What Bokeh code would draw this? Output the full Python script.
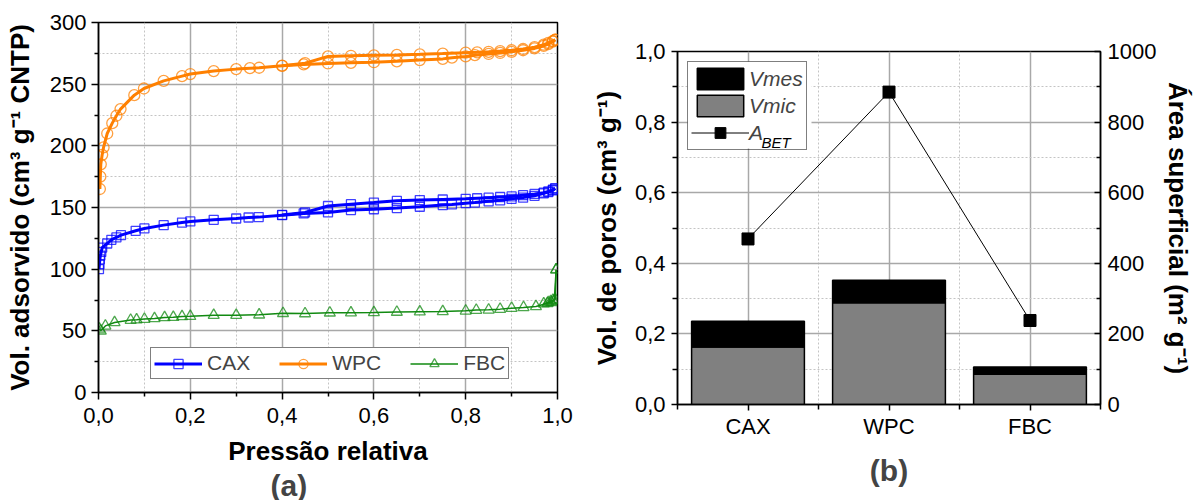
from bokeh.plotting import figure
from bokeh.models import (Range1d, LinearAxis, Legend, LegendItem, FixedTicker,
                          Title, Label, ColumnDataSource, BoxAnnotation)
from bokeh.layouts import row
from bokeh.embed import file_html
from bokeh.resources import INLINE

FONT = "Liberation Sans"

# ---------------- Panel (a): N2 isotherms ----------------
cax_ads_p = [0.001, 0.002, 0.003, 0.004, 0.006, 0.008, 0.019, 0.028, 0.039, 0.049, 0.081, 0.10,
             0.142, 0.182, 0.20, 0.251, 0.30, 0.327, 0.349, 0.40, 0.447, 0.50, 0.55, 0.60, 0.65,
             0.70, 0.75, 0.77, 0.80, 0.82, 0.85, 0.875, 0.90, 0.925, 0.95, 0.97, 0.98, 0.99, 0.995]
cax_ads_v = [100, 104, 108, 111, 114, 117.5, 120.8, 123.8, 125.7, 127.6, 131.1, 133.0,
             135.7, 137.8, 138.7, 140.0, 141.1, 141.9, 142.2, 143.8, 145.2, 146.0, 147.9, 148.6, 149.5,
             150.6, 152.0, 152.5, 153.5, 154.0, 155.0, 155.8, 157.0, 158.0, 159.5, 161.5, 162.5, 164.0, 165.5]
cax_des_p = [0.995, 0.99, 0.98, 0.97, 0.95, 0.925, 0.90, 0.875, 0.85, 0.825, 0.80, 0.75, 0.70,
             0.65, 0.60, 0.55, 0.50, 0.45, 0.40]
cax_des_v = [165.5, 164.5, 163.0, 162.0, 161.0, 160.0, 159.0, 158.5, 158.0, 157.5, 157.0, 156.5, 156.0,
             155.4, 154.0, 152.7, 151.2, 146.0, 144.0]

wpc_ads_p = [0.003, 0.004, 0.005, 0.008, 0.011, 0.019, 0.03, 0.039, 0.048, 0.078, 0.099, 0.142,
             0.182, 0.20, 0.251, 0.30, 0.33, 0.35, 0.40, 0.447, 0.50, 0.55, 0.60, 0.65, 0.70, 0.75,
             0.77, 0.80, 0.82, 0.85, 0.875, 0.90, 0.925, 0.95, 0.97, 0.98, 0.99, 0.995]
wpc_ads_v = [165.0, 175.0, 185.0, 192.7, 198.7, 210.0, 218.4, 224.4, 229.8, 241.1, 246.5, 252.7,
             256.5, 258.2, 260.6, 262.2, 263.0, 263.3, 264.9, 266.0, 266.8, 267.3, 267.8, 268.5, 269.5, 270.5,
             271.5, 272.5, 273.5, 274.5, 275.3, 276.2, 277.5, 279.0, 281.0, 282.5, 284.5, 286.0]
wpc_des_p = [0.995, 0.99, 0.98, 0.97, 0.95, 0.925, 0.90, 0.875, 0.85, 0.825, 0.80, 0.75, 0.70,
             0.65, 0.60, 0.55, 0.50, 0.45, 0.40]
wpc_des_v = [286.0, 285.0, 283.5, 282.0, 280.0, 278.5, 277.5, 276.8, 276.2, 275.8, 275.5, 274.8, 274.2,
             273.7, 273.4, 273.0, 272.5, 267.0, 265.0]

fbc_ads_p = [0.002, 0.005, 0.015, 0.035, 0.07, 0.083, 0.10, 0.122, 0.144, 0.163, 0.182, 0.20,
             0.251, 0.30, 0.35, 0.402, 0.45, 0.504, 0.55, 0.60, 0.65, 0.70, 0.75, 0.80, 0.823,
             0.85, 0.875, 0.90, 0.926, 0.953, 0.978, 0.987, 0.993, 0.997]
fbc_ads_v = [51.5, 50.0, 54.0, 56.8, 58.7, 59.0, 59.5, 60.0, 60.8, 61.0, 61.6, 61.8,
             62.7, 62.7, 63.0, 64.2, 64.0, 64.6, 64.7, 64.9, 65.2, 65.5, 65.7, 66.2, 66.8,
             67.0, 67.6, 68.4, 69.0, 69.8, 72.3, 73.1, 74.5, 99.5]
fbc_des_p = [0.997, 0.995, 0.99, 0.985, 0.98, 0.97]
fbc_des_v = [99.5, 75.5, 74.8, 73.8, 73.0, 72.0]

x_ticks_a = [0.0, 0.2, 0.4, 0.6, 0.8, 1.0]
x_labels_a = ["0,0", "0,2", "0,4", "0,6", "0,8", "1,0"]
y_ticks_a = [0, 50, 100, 150, 200, 250, 300]

# ---------------- Panel (b): pore volumes & BET area ----------------
categories = ["CAX", "WPC", "FBC"]
v_mic = [0.163, 0.288, 0.086]
v_mes = [0.073, 0.064, 0.020]
a_bet = [469, 885, 238]
y_ticks_b = [0.0, 0.2, 0.4, 0.6, 0.8, 1.0]
y_labels_b = ["0,0", "0,2", "0,4", "0,6", "0,8", "1,0"]
y2_ticks_b = [0, 200, 400, 600, 800, 1000]

TICK_FS = "22px"
LAB_FS = "26px"


def style_axis(ax):
    ax.axis_line_color = "black"
    ax.axis_line_width = 1.5
    ax.major_tick_line_color = "black"
    ax.major_tick_line_width = 1.5
    ax.minor_tick_line_color = "black"
    ax.minor_tick_line_width = 1.5
    ax.major_label_text_font = FONT
    ax.major_label_text_font_size = TICK_FS
    ax.major_label_text_color = "black"
    ax.axis_label_text_font = FONT
    ax.axis_label_text_font_size = LAB_FS
    ax.axis_label_text_font_style = "bold"
    ax.axis_label_text_color = "black"


def style_grid(p):
    for g in (p.xgrid[0], p.ygrid[0]):
        g.grid_line_color = "#a8a8a8"
        g.grid_line_width = 1.5
        g.minor_grid_line_color = "#c4c4c4"
        g.minor_grid_line_width = 1
        g.minor_grid_line_dash = "2 2"


# ======== Figure (a) ========
p1 = figure(width=588, height=500, x_range=Range1d(0, 1), y_range=Range1d(0, 300),
            output_backend="svg", toolbar_location=None,
            min_border_left=98, min_border_right=31, min_border_top=22, min_border_bottom=108,
            background_fill_color="white", border_fill_color="white")
p1.frame_align = False
p1.outline_line_color = "black"
p1.outline_line_width = 1.5

p1.xaxis.ticker = FixedTicker(ticks=x_ticks_a, minor_ticks=[0.1, 0.3, 0.5, 0.7, 0.9])
p1.xaxis.major_label_overrides = {t: l for t, l in zip(x_ticks_a, x_labels_a)}
p1.yaxis.ticker = FixedTicker(ticks=y_ticks_a, minor_ticks=[25, 75, 125, 175, 225, 275])
for ax in (p1.xaxis[0], p1.yaxis[0]):
    style_axis(ax)
    ax.major_tick_out = 7
    ax.major_tick_in = 0
    ax.minor_tick_out = 4
    ax.minor_tick_in = 0
p1.xaxis.axis_label = "Pressão relativa"
p1.xaxis.major_label_standoff = 8
p1.xaxis.axis_label_standoff = 10
p1.yaxis.axis_label = "Vol. adsorvido (cm³ g⁻¹ CNTP)"
p1.yaxis.major_label_standoff = 5
p1.yaxis.axis_label_standoff = 12
style_grid(p1)

series = [
    ("CAX", "#0000ff", "square", 9, 3, cax_ads_p, cax_ads_v, cax_des_p, cax_des_v),
    ("WPC", "#ff8000", "circle", 11, 3, wpc_ads_p, wpc_ads_v, wpc_des_p, wpc_des_v),
    ("FBC", "#118a11", "triangle", 11, 1.5, fbc_ads_p, fbc_ads_v, fbc_des_p, fbc_des_v),
]
items_a = []
for name, col, mk, sz, lw, ap, av, dp, dv in series:
    l1 = p1.line(ap, av, line_color=col, line_width=lw)
    p1.line(dp, dv, line_color=col, line_width=lw)
    s1 = p1.scatter(ap + dp, av + dv, marker=mk, size=sz, fill_color=None,
                    line_color=col, line_width=1.3, line_alpha=0.75)
    items_a.append(LegendItem(label=name, renderers=[l1, s1]))

leg_a = Legend(items=items_a, orientation="horizontal", location=(52, 13),
               glyph_width=48, glyph_height=23, label_standoff=5, spacing=29,
               padding=3, margin=0,
               label_text_font=FONT, label_text_font_size="21px",
               border_line_color="black", border_line_width=1.5,
               background_fill_color="white", background_fill_alpha=1)
p1.add_layout(leg_a)
p1.add_layout(Title(text="(a)", align="left", offset=172, text_font=FONT, text_font_size="30px",
                    text_font_style="bold", standoff=-4), "below")

# ======== Figure (b) ========
p2 = figure(width=608, height=500, x_range=Range1d(0.5, 3.5), y_range=Range1d(0, 1),
            output_backend="svg", toolbar_location=None,
            min_border_left=84, min_border_right=86, min_border_top=51, min_border_bottom=96,
            background_fill_color="white", border_fill_color="white")
p2.frame_align = False
p2.outline_line_color = "black"
p2.outline_line_width = 1.5
p2.extra_y_ranges = {"area": Range1d(0, 1000)}

x_pos = list(range(1, len(categories) + 1))
p2.xaxis.ticker = FixedTicker(ticks=x_pos, minor_ticks=[0.5, 1.5, 2.5, 3.5])
p2.xaxis.major_label_overrides = {t: c for t, c in zip(x_pos, categories)}
p2.yaxis.ticker = FixedTicker(ticks=y_ticks_b, minor_ticks=[0.1, 0.3, 0.5, 0.7, 0.9])
p2.yaxis.major_label_overrides = {t: l for t, l in zip(y_ticks_b, y_labels_b)}
for ax in (p2.xaxis[0], p2.yaxis[0]):
    style_axis(ax)
    ax.major_tick_out = 6
    ax.major_tick_in = 0
    ax.minor_tick_out = 5
    ax.minor_tick_in = 0
p2.xaxis.major_label_standoff = 3
p2.yaxis.axis_label = "Vol. de poros (cm³ g⁻¹)"
p2.yaxis.major_label_standoff = 6
p2.yaxis.axis_label_standoff = 10

ax2 = LinearAxis(y_range_name="area", axis_label="Área superficial (m² g⁻¹)",
                 ticker=FixedTicker(ticks=y2_ticks_b, minor_ticks=[100, 300, 500, 700, 900]))
style_axis(ax2)
ax2.major_tick_out = 0
ax2.major_tick_in = 6
ax2.minor_tick_out = 0
ax2.minor_tick_in = 4
ax2.major_label_standoff = 7
ax2.axis_label_standoff = 4
p2.add_layout(ax2, "right")
style_grid(p2)

tot = [a + b for a, b in zip(v_mic, v_mes)]
src = ColumnDataSource(dict(x=x_pos, mic=v_mic, tot=tot, zero=[0] * len(x_pos), area=a_bet))
r_mic = p2.vbar(x="x", bottom="zero", top="mic", width=0.8, source=src,
                fill_color="#808080", line_color="black", line_width=1.5)
r_mes = p2.vbar(x="x", bottom="mic", top="tot", width=0.8, source=src,
                fill_color="black", line_color="black", line_width=1.5)
r_line = p2.line(x="x", y="area", source=src, y_range_name="area", line_color="black", line_width=1)
r_pts = p2.scatter(x="x", y="area", source=src, y_range_name="area", marker="square",
                   size=12, fill_color="black", line_color="black")

# white backing for the (transparent) legend so that the subscript can sit inside it
p2.add_layout(BoxAnnotation(left=10, right=134, top=343, bottom=256,
                            left_units="screen", right_units="screen",
                            top_units="screen", bottom_units="screen",
                            fill_color="white", fill_alpha=1, line_alpha=0, level="annotation"))
p2.add_layout(Label(x=84, y=262, x_units="screen", y_units="screen", text="BET",
                    text_font=FONT, text_font_size="15px", text_font_style="italic",
                    text_baseline="alphabetic", text_color="black", level="overlay"))

leg_b = Legend(items=[LegendItem(label="Vmes", renderers=[r_mes]),
                      LegendItem(label="Vmic", renderers=[r_mic]),
                      LegendItem(label="A", renderers=[r_line, r_pts])],
               location="top_left", margin=10, glyph_width=58, glyph_height=27,
               label_standoff=0, spacing=0, padding=3,
               label_text_font=FONT, label_text_font_size="21px", label_text_font_style="italic",
               border_line_color="black", border_line_width=1.5,
               background_fill_alpha=0)
p2.add_layout(leg_b)
p2.add_layout(Title(text="(b)", align="center", text_font=FONT, text_font_size="30px",
                    text_font_style="bold", standoff=21), "below")

layout = row(p1, p2)
open("out.html", "w").write(file_html(layout, INLINE))
